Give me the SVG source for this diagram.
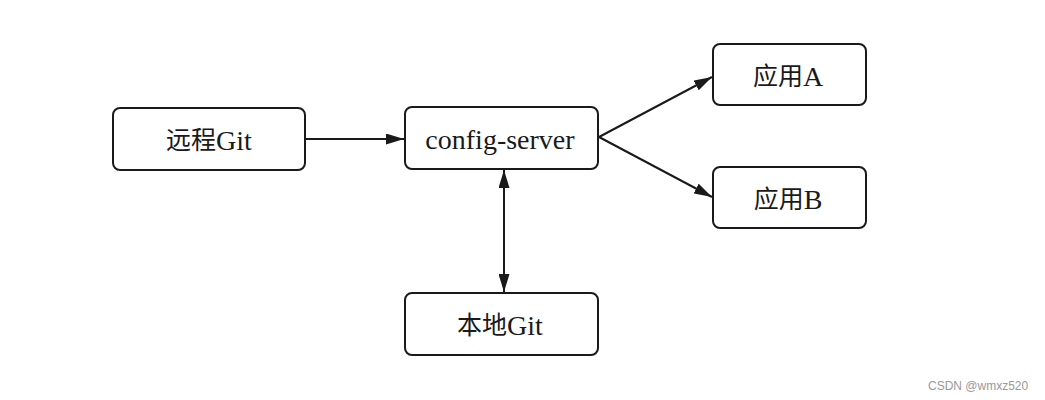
<svg xmlns="http://www.w3.org/2000/svg" width="1045" height="400" viewBox="0 0 1045 400">
<style>
.box{fill:#fff;stroke:#1a1a1a;stroke-width:2}
.lbl{font-family:"Liberation Serif","Noto Sans CJK SC",serif;font-size:28px;fill:#1a1a1a;text-anchor:middle;dominant-baseline:central}
.cjk{font-size:25px}
.edge{stroke:#1a1a1a;stroke-width:2;fill:none}
.wm{font-family:"Liberation Sans",Arial,sans-serif;font-size:12px;fill:#999}
</style>
<defs>
<marker id="ah" viewBox="0 0 18 11" refX="18" refY="5.5" markerWidth="18" markerHeight="11" markerUnits="userSpaceOnUse" orient="auto-start-reverse">
<path d="M0,0 L18,5.5 L0,11 Z" fill="#1a1a1a"/>
</marker>
</defs>
<rect width="1045" height="400" fill="#fff"/>
<g id="connectors">
<line class="edge" x1="305" y1="139" x2="404" y2="139" marker-end="url(#ah)"/>
<line class="edge" x1="599" y1="137" x2="712" y2="77" marker-end="url(#ah)"/>
<line class="edge" x1="599" y1="137" x2="712" y2="197" marker-end="url(#ah)"/>
<line class="edge" x1="504" y1="170" x2="504" y2="292" marker-start="url(#ah)" marker-end="url(#ah)"/>
</g>
<g id="remote-git">
<rect class="box" x="113" y="108" width="192" height="62" rx="7"/>
<text class="lbl" x="209" y="140"><tspan class="cjk">远程</tspan>Git</text>
</g>
<g id="config-server">
<rect class="box" x="405" y="107" width="193" height="62" rx="7"/>
<text class="lbl" x="500" y="139">config-server</text>
</g>
<g id="app-a">
<rect class="box" x="713" y="44" width="153" height="61" rx="7"/>
<text class="lbl" x="788" y="76"><tspan class="cjk">应用</tspan>A</text>
</g>
<g id="app-b">
<rect class="box" x="713" y="167" width="153" height="61" rx="7"/>
<text class="lbl" x="788" y="199"><tspan class="cjk">应用</tspan>B</text>
</g>
<g id="local-git">
<rect class="box" x="405" y="293" width="193" height="62" rx="7"/>
<text class="lbl" x="500" y="325"><tspan class="cjk">本地</tspan>Git</text>
</g>
<text class="wm" x="928" y="390">CSDN @wmxz520</text>
</svg>
